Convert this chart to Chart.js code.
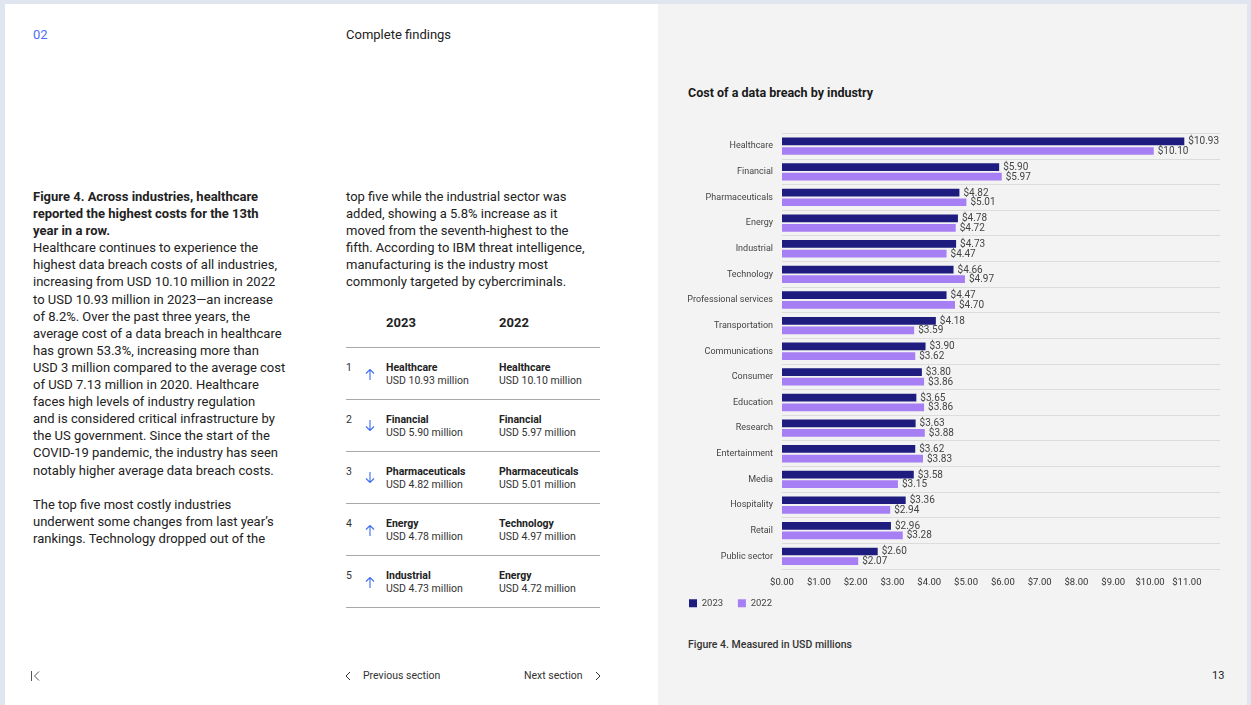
<!DOCTYPE html>
<html>
<head>
<meta charset="utf-8">
<script src="https://cdn.jsdelivr.net/npm/chart.js@4.4.1/dist/chart.umd.min.js"></script>
<style>
    body { margin: 0; width: 1251px; height: 705px; overflow: hidden; background: #dfe6f0; font-family: Roboto, "Noto Sans", sans-serif; color: #222; position: relative; }
    #left { position: absolute; left: 5px; top: 4px; width: 653px; height: 701px; background: #fff; }
    #right { position: absolute; left: 658px; top: 4px; width: 589px; height: 701px; background: #f3f3f3; }
    .t { position: absolute; white-space: nowrap; }
    .body { font-size: 13px; line-height: 17.1px; color: #222; }
    .rule { position: absolute; left: 346px; width: 254px; height: 1px; background: #a8a8a8; }
    .num { font-size: 10.5px; color: #333; }
    .arrow { position: absolute; }
    .name { font-size: 10.5px; font-weight: bold; line-height: 13px; }
    .val { font-size: 10.5px; line-height: 13px; color: #333; }
    #chartBox { position: absolute; left: 681px; top: 119px; width: 548px; height: 499px; }
</style>
</head>
<body>
<div id="left"></div>
<div id="right"></div>

<div class="t" style="left:33px;top:27px;font-size:13px;color:#4f6ef7;">02</div>
<div class="t" style="left:346px;top:27px;font-size:13px;">Complete findings</div>

<div class="t body" style="left:33px;top:188px;"><b>Figure 4. Across industries, healthcare<br>reported the highest costs for the 13th<br>year in a row.</b><br>Healthcare continues to experience the<br>highest data breach costs of all industries,<br>increasing from USD 10.10 million in 2022<br>to USD 10.93 million in 2023—an increase<br>of 8.2%. Over the past three years, the<br>average cost of a data breach in healthcare<br>has grown 53.3%, increasing more than<br>USD 3 million compared to the average cost<br>of USD 7.13 million in 2020. Healthcare<br>faces high levels of industry regulation<br>and is considered critical infrastructure by<br>the US government. Since the start of the<br>COVID-19 pandemic, the industry has seen<br>notably higher average data breach costs.<br><br>The top five most costly industries<br>underwent some changes from last year’s<br>rankings. Technology dropped out of the</div>

<div class="t body" style="left:346px;top:188px;">top five while the industrial sector was<br>added, showing a 5.8% increase as it<br>moved from the seventh-highest to the<br>fifth. According to IBM threat intelligence,<br>manufacturing is the industry most<br>commonly targeted by cybercriminals.</div>

<div class="t" style="left:386px;top:315px;font-size:13px;font-weight:bold;">2023</div>
<div class="t" style="left:499px;top:315px;font-size:13px;font-weight:bold;">2022</div>
<div id="table"></div>

<svg class="t" style="left:30px;top:670px" width="12" height="12"><path d="M1.5 1v10M9 1.5L4.5 6L9 10.5" stroke="#555" stroke-width="1" fill="none"/></svg>
<svg class="t" style="left:344px;top:671px" width="8" height="10"><path d="M6 1L2 5L6 9" stroke="#333" stroke-width="1" fill="none"/></svg>
<div class="t" style="left:363px;top:669px;font-size:10.5px;color:#333;">Previous section</div>
<div class="t" style="left:524px;top:669px;font-size:10.5px;color:#333;">Next section</div>
<svg class="t" style="left:594px;top:671px" width="8" height="10"><path d="M2 1L6 5L2 9" stroke="#333" stroke-width="1" fill="none"/></svg>

<div class="t" style="left:688px;top:85px;font-size:12.5px;font-weight:bold;color:#1a1a1a;">Cost of a data breach by industry</div>
<div id="chartBox"><canvas id="chart"></canvas></div>
<div class="t" style="left:688px;top:638px;font-size:10.5px;font-weight:500;color:#333;">Figure 4. Measured in USD millions</div>
<div class="t" style="left:1212px;top:669px;font-size:11px;color:#222;">13</div>

<script>
// chart data
const industries = [
    'Healthcare', 'Financial', 'Pharmaceuticals', 'Energy', 'Industrial', 'Technology',
    'Professional services', 'Transportation', 'Communications', 'Consumer', 'Education',
    'Research', 'Entertainment', 'Media', 'Hospitality', 'Retail', 'Public sector'
];
const cost2023 = [10.93, 5.90, 4.82, 4.78, 4.73, 4.66, 4.47, 4.18, 3.90, 3.80, 3.65, 3.63, 3.62, 3.58, 3.36, 2.96, 2.60];
const cost2022 = [10.10, 5.97, 5.01, 4.72, 4.47, 4.97, 4.70, 3.59, 3.62, 3.86, 3.86, 3.88, 3.83, 3.15, 2.94, 3.28, 2.07];
const xTicks = [0, 1, 2, 3, 4, 5, 6, 7, 8, 9, 10, 11];

// top five table
const rank = [1, 2, 3, 4, 5];
const trend = ['up', 'down', 'down', 'up', 'up'];
const top2023 = ['Healthcare', 'Financial', 'Pharmaceuticals', 'Energy', 'Industrial'];
const top2023Val = ['10.93', '5.90', '4.82', '4.78', '4.73'];
const top2022 = ['Healthcare', 'Financial', 'Pharmaceuticals', 'Technology', 'Energy'];
const top2022Val = ['10.10', '5.97', '5.01', '4.97', '4.72'];

const arrowPath = {
    up: 'M5 12V1.5M1 5.5L5 1.5L9 5.5',
    down: 'M5 0V10.5M1 6.5L5 10.5L9 6.5',
};

const table = document.getElementById('table');
let html = '<div class="rule" style="top:347px"></div>';
rank.forEach((r, i) => {
    const y = 361 + i * 52;
    html += `<div class="t num" style="left:346px;top:${y}px">${r}</div>`;
    html += `<svg class="arrow" style="left:365px;top:${y + 7}px" width="10" height="13"><path d="${arrowPath[trend[i]]}" stroke="#3d6cf5" stroke-width="1.1" fill="none"/></svg>`;
    html += `<div class="t name" style="left:386px;top:${y}px">${top2023[i]}</div>`;
    html += `<div class="t val" style="left:386px;top:${y + 13}px">USD ${top2023Val[i]} million</div>`;
    html += `<div class="t name" style="left:499px;top:${y}px">${top2022[i]}</div>`;
    html += `<div class="t val" style="left:499px;top:${y + 13}px">USD ${top2022Val[i]} million</div>`;
    html += `<div class="rule" style="top:${399 + i * 52}px"></div>`;
});
table.innerHTML = html;

const valueLabels = {
    id: 'valueLabels',
    afterDatasetsDraw(chart) {
        const ctx = chart.ctx;
        ctx.save();
        ctx.font = '10px Roboto';
        ctx.fillStyle = '#444';
        ctx.textBaseline = 'middle';
        chart.data.datasets.forEach((ds, i) => {
            chart.getDatasetMeta(i).data.forEach((bar, j) => {
                ctx.fillText('$' + ds.data[j].toFixed(2), bar.x + 4, bar.y + 0.5);
            });
        });
        ctx.restore();
    }
};

new Chart(document.getElementById('chart'), {
    type: 'bar',
    data: {
        labels: industries,
        datasets: [
            { label: '2023', data: cost2023, backgroundColor: '#1e1c7f' },
            { label: '2022', data: cost2022, backgroundColor: '#a77ff4' },
        ],
    },
    options: {
        indexAxis: 'y',
        responsive: true,
        maintainAspectRatio: false,
        animation: false,
        barPercentage: 0.8,
        categoryPercentage: 0.75,
        layout: { padding: { top: 8, right: 9, left: 0, bottom: 0 } },
        scales: {
            x: {
                min: 0,
                max: 11.9,
                afterBuildTicks: (axis) => { axis.ticks = xTicks.map(v => ({ value: v })); },
                afterFit: (axis) => { axis.height -= 6; },
                grid: { display: false, drawTicks: false },
                border: { display: false },
                ticks: {
                    padding: 8,
                    color: '#333',
                    font: { size: 9.5, family: 'Roboto' },
                    callback: (v) => '$' + Number(v).toFixed(2),
                },
            },
            y: {
                afterFit: (axis) => { axis.width = 101; },
                grid: { color: '#dcdcdc', drawTicks: false, offset: true },
                border: { display: false },
                ticks: {
                    padding: 9,
                    color: '#444',
                    font: { size: 9, family: 'Roboto' },
                },
            },
        },
        plugins: {
            legend: {
                position: 'bottom',
                align: 'start',
                labels: {
                    boxWidth: 8,
                    boxHeight: 8,
                    padding: 8,
                    color: '#444',
                    font: { size: 9.5, family: 'Roboto' },
                    generateLabels: (chart) => Chart.defaults.plugins.legend.labels.generateLabels(chart)
                        .map(item => ({ ...item, text: item.text + '\u2002\u2009' })),
                },
            },
            tooltip: { enabled: false },
        },
    },
    plugins: [valueLabels],
});
</script>
</body>
</html>
